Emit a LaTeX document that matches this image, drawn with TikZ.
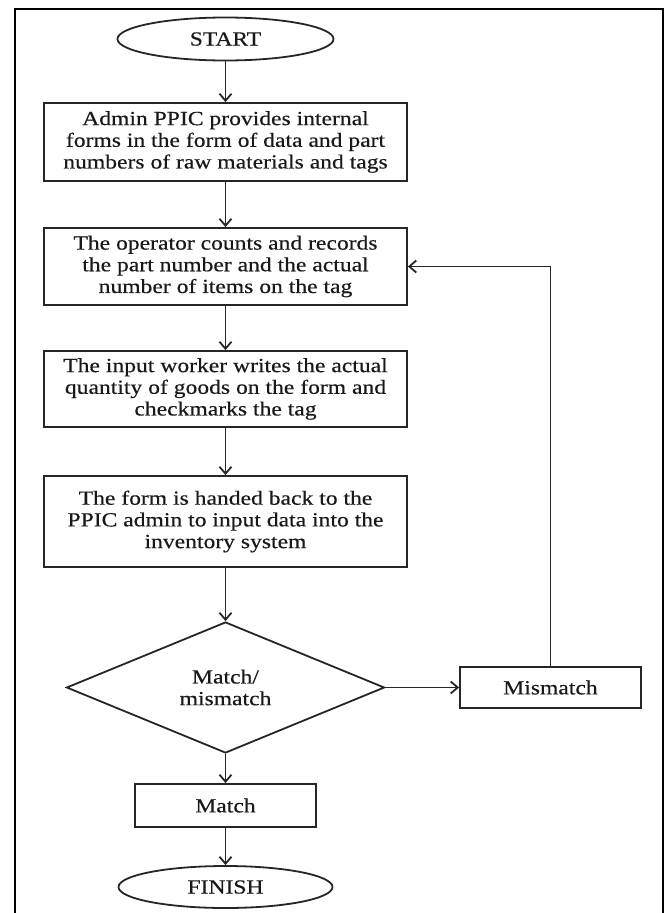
\documentclass[tikz,border=0pt]{standalone}
\usepackage{fontspec}
\setmainfont{Liberation Serif}[FakeStretch=1.18,FakeBold=0.4]
\usetikzlibrary{shapes.geometric,arrows.meta}
\begin{document}
\begin{tikzpicture}[x=1pt,y=1pt,
  every node/.style={text=black!90, font=\fontsize{20pt}{21.7pt}\selectfont},
  stepbox/.style={draw=black!85, line width=1.8pt, rectangle, inner sep=0pt, align=center, minimum width=363pt},
  termbox/.style={draw=black!85, line width=1.8pt, ellipse, inner sep=0pt},
  decbox/.style={draw=black!85, line width=1.8pt, diamond, inner sep=0pt, align=center},
  conn/.style={draw=black!85, line width=1.8pt, -{Straight Barb[length=7pt,width=12pt]}}
]
\useasboundingbox (0,0) rectangle (665,-913);
\draw[line width=2.6pt, black] (15,-913) -- (15,-9) -- (663,-9) -- (663,-913);

\node[termbox, minimum width=216pt, minimum height=43pt] (start) at (225.5,-39) {START};
\node[stepbox, minimum height=78pt] (b1) at (225.5,-142) {Admin PPIC provides internal\\forms in the form of data and part\\numbers of raw materials and tags};
\node[stepbox, minimum height=77pt] (b2) at (225.5,-266.5) {The operator counts and records\\the part number and the actual\\number of items on the tag};
\node[stepbox, minimum height=76pt] (b3) at (225.5,-389) {The input worker writes the actual\\quantity of goods on the form and\\checkmarks the tag};
\node[stepbox, minimum height=91pt] (b4) at (225.5,-521.5) {The form is handed back to the\\PPIC admin to input data into the\\inventory system};
\node[decbox, minimum width=318pt, minimum height=131pt] (dec) at (225.5,-687.5) {Match/\\mismatch};
\node[stepbox, minimum width=181pt, minimum height=41pt] (mis) at (550.5,-687.5) {Mismatch};
\node[stepbox, minimum width=181pt, minimum height=43pt] (mat) at (225.5,-805.5) {Match};
\node[termbox, minimum width=214pt, minimum height=42pt] (fin) at (225.5,-887) {FINISH};

\draw[conn] (start) -- (b1);
\draw[conn] (b1) -- (b2);
\draw[conn] (b2) -- (b3);
\draw[conn] (b3) -- (b4);
\draw[conn] (b4) -- (dec);
\draw[conn] (dec) -- (mis);
\draw[conn] (dec) -- (mat);
\draw[conn] (mat) -- (fin);
\draw[conn] (mis.north) |- (b2.east);
\end{tikzpicture}
\end{document}
